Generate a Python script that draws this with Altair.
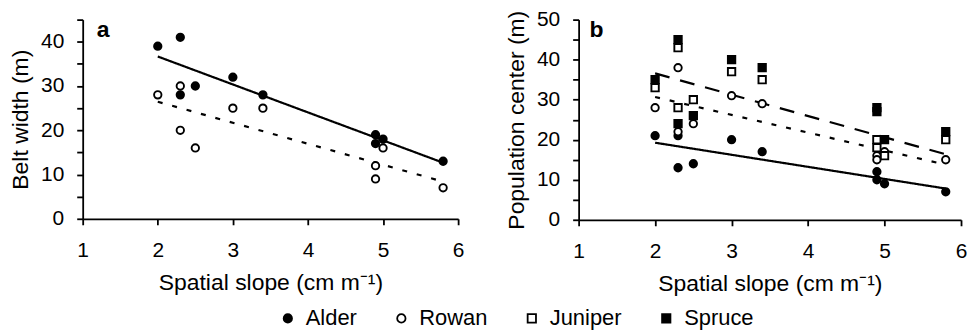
import altair as alt
import pandas as pd

species = ["Alder", "Rowan", "Juniper", "Spruce"]
slope = [2, 2.3, 2.3, 2.5, 3, 3.4, 4.9, 4.9, 5, 5.8]

# Panel a: belt width (m)
belt_alder = [39, 41, 28, 30, 32, 28, 19, 17, 18, 13]
belt_rowan = [28, 30, 20, 16, 25, 25, 12, 9, 16, 7]

# Panel b: population center (m)
pop_alder = [21, 21, 13, 14, 20, 17, 12, 10, 9, 7]
pop_rowan = [28, 38, 22, 24, 31, 29, 16, 15, 17, 15]
pop_juniper = [33, 43, 28, 30, 37, 35, 20, 18, 16, 20]
pop_spruce = [35, 45, 24, 26, 40, 38, 28, 27, 20, 22]

x_ticks = [1, 2, 3, 4, 5, 6]

def frame(series):
    rows = []
    for name, vals in series:
        for x, y in zip(slope, vals):
            rows.append({"slope": x, "value": y, "species": name})
    return pd.DataFrame(rows)

df_a = frame([("Alder", belt_alder), ("Rowan", belt_rowan)])
df_b = frame([("Alder", pop_alder), ("Rowan", pop_rowan),
              ("Juniper", pop_juniper), ("Spruce", pop_spruce)])

FONT = "Liberation Sans"
x_title = "Spatial slope (cm m\u207b\u00b9)"

shape_scale = alt.Scale(domain=species, range=["circle", "circle", "square", "square"])
fill_scale = alt.Scale(domain=species, range=["black", "white", "white", "black"])
stroke_scale = alt.Scale(domain=species, range=["black", "black", "black", "black"])

dash_map = {"Alder": [1, 0], "Rowan": [5, 10], "Juniper": [15, 11]}

legend = alt.Legend(
    title=None, orient="none", direction="horizontal", legendX=195, legendY=289,
    labelFont=FONT, labelFontSize=22, labelColor="black", symbolSize=70,
    columnPadding=33, labelOffset=7, symbolStrokeColor="black", symbolStrokeWidth=1.8,
)


def panel(df, ymax, ytitle, letter, lx, line_species, w, h):
    xenc = alt.X("slope:Q", title=x_title,
                 scale=alt.Scale(domain=[1, 6], nice=False),
                 axis=alt.Axis(values=x_ticks, labelPadding=15, titlePadding=11,
                               labelFlush=False))
    yenc = alt.Y("value:Q", title=ytitle,
                 scale=alt.Scale(domain=[0, ymax], nice=False),
                 axis=alt.Axis(values=list(range(0, ymax + 1, 5)),
                               labelExpr="datum.value % 10 == 0 ? datum.label : ''",
                               labelPadding=13, titlePadding=8))
    base = alt.Chart(df)
    layers = []
    for sp in line_species:
        layers.append(
            base.transform_filter(alt.datum.species == sp)
            .transform_regression("slope", "value")
            .mark_line(color="black", strokeWidth=2.2, strokeDash=dash_map[sp])
            .encode(x=xenc, y=yenc)
        )
    pts = base.mark_point(strokeWidth=1.9, opacity=1, fillOpacity=1, size=55).encode(
        x=xenc, y=yenc,
        shape=alt.Shape("species:N", scale=shape_scale, legend=legend),
        fill=alt.Fill("species:N", scale=fill_scale, legend=legend),
        stroke=alt.Stroke("species:N", scale=stroke_scale, legend=legend),
    )
    label = alt.Chart(pd.DataFrame({"t": [letter]})).mark_text(
        font=FONT, fontSize=23, fontWeight="bold", align="left", baseline="alphabetic"
    ).encode(text="t:N", x=alt.value(lx), y=alt.value(17))
    return alt.layer(*layers, pts, label).properties(width=w, height=h)


pa = panel(df_a, 45, "Belt width (m)", "a", 14, ["Alder", "Rowan"], 377, 200)
pb = panel(df_b, 50, "Population center (m)", "b", 11, ["Alder", "Rowan", "Juniper"], 384, 201)

chart = alt.hconcat(pa, pb, spacing=41).resolve_scale(
    shape="shared", fill="shared", stroke="shared"
).properties(
    padding={"left": 1, "top": 0, "right": 0, "bottom": 0}
).configure_view(stroke=None).configure_axis(
    grid=False, domainColor="black", domainWidth=1.8, tickColor="black",
    tickWidth=1.8, tickSize=6, labelFont=FONT, labelFontSize=21, labelColor="black",
    titleFont=FONT, titleFontSize=23, titleFontWeight="normal", titleColor="black",
)

chart.save("out.html", embed_options={"renderer": "svg", "actions": False})
